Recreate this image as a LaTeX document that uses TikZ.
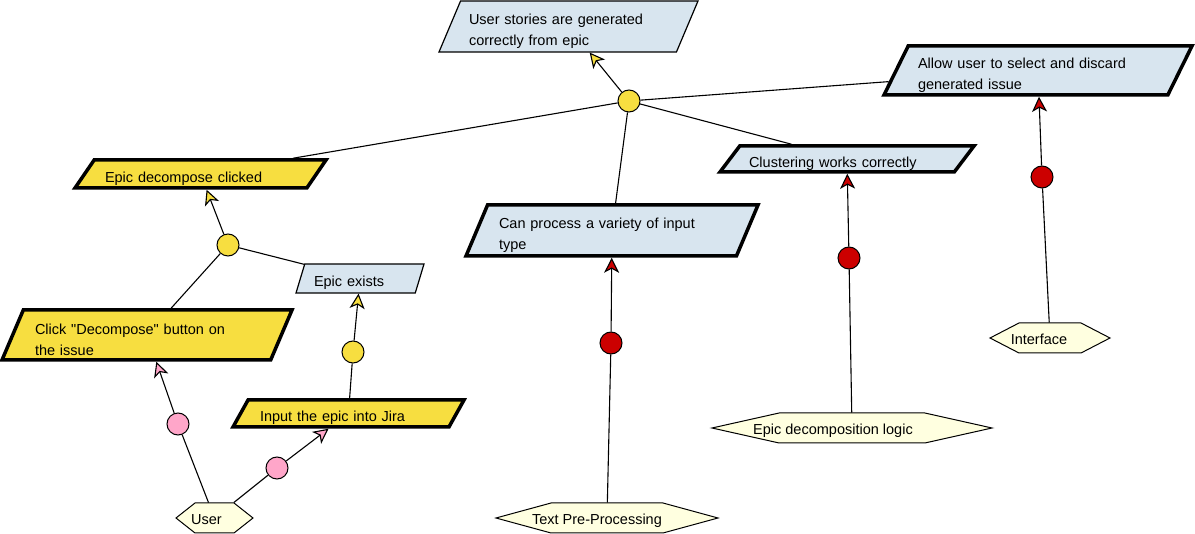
\documentclass[tikz,border=0pt]{standalone}
\usepackage{fontspec}
\setmainfont{Liberation Sans}
\usetikzlibrary{shapes.geometric,shapes.symbols,arrows.meta}
\definecolor{goalblue}{RGB}{216,229,239}
\definecolor{goalyellow}{RGB}{247,222,64}
\definecolor{oppink}{RGB}{255,166,201}
\definecolor{respred}{RGB}{204,0,0}
\definecolor{agentfill}{RGB}{255,255,224}
\begin{document}
\begin{tikzpicture}[x=1pt,y=-1pt,font=\fontsize{14.5}{21}\selectfont]
  \tikzstyle{goal}=[trapezium,trapezium stretches body,draw,fill=goalblue,line width=1.2pt,inner xsep=0pt,inner ysep=0pt,text height=20pt,align=left];
  \tikzstyle{hardgoal}=[goal,line width=3.5pt];
  \tikzstyle{agent}=[signal,signal to=east and west,draw,fill=agentfill,line width=1pt,minimum height=30];
  \tikzstyle{every label}=[text height=17pt,text depth=3pt];
  \tikzstyle{refine}=[circle,draw,line width=1pt,inner sep=0pt,minimum size=22];
  \tikzstyle{link}=[draw,line width=1.1pt];
  \tikzstyle{yellowtip}=[-{Stealth[length=15pt,width=15pt,inset=4pt,fill=goalyellow]}];
  \tikzstyle{pinktip}=[-{Stealth[length=15pt,width=15pt,inset=4pt,fill=oppink]}];
  \tikzstyle{redtip}=[-{Stealth[length=15pt,width=15pt,inset=4pt,fill=respred]}];
  \useasboundingbox (0,0) rectangle (1195,534);

  % goals
  \path (568.5,26.5) node[goal,minimum width=259,minimum height=51,trapezium left angle=63.9,trapezium right angle=116.1,text width=199] (stories) {User stories are generated\\correctly from epic};
  \path (1038,70.5) node[hardgoal,minimum width=308,minimum height=49,trapezium left angle=61.2,trapezium right angle=118.8,text width=240] (discard) {Allow user to select and discard\\generated issue};
  \path (847,159) node[hardgoal,minimum width=254,minimum height=26,trapezium left angle=49.4,trapezium right angle=130.6,text width=196] (cluster) {Clustering works correctly};
  \path (612,230.5) node[hardgoal,minimum width=292,minimum height=51,trapezium left angle=63.9,trapezium right angle=116.1,text width=226] (variety) {Can process a variety of input\\type};
  \path (200.5,174) node[hardgoal,fill=goalyellow,minimum width=251,minimum height=28,trapezium left angle=50.2,trapezium right angle=129.8,text width=191] (clicked) {Epic decompose clicked};
  \path (360,278.5) node[goal,minimum width=128,minimum height=29,trapezium left angle=69.2,trapezium right angle=110.8,text width=92] (exists) {Epic exists};
  \path (147,335) node[hardgoal,fill=goalyellow,minimum width=290,minimum height=50,trapezium left angle=62.6,trapezium right angle=117.4,text width=224] (button) {Click \textquotedbl Decompose\textquotedbl\ button on\\the issue};
  \path (348.5,413.5) node[hardgoal,fill=goalyellow,minimum width=231,minimum height=27,trapezium left angle=56.8,trapezium right angle=123.2,text width=177] (jira) {Input the epic into Jira};

  % agents
  \path (214.5,518) node[agent,minimum width=77,signal pointer angle=76.6,label={[xshift=-8pt]center:User}] (user) {};
  \path (607,518) node[agent,minimum width=222,signal pointer angle=30.5,label={[xshift=-10pt]center:Text Pre-Processing}] (preproc) {};
  \path (852,428) node[agent,minimum width=280,signal pointer angle=25.2,label={[xshift=-19pt]center:Epic decomposition logic}] (logic) {};
  \path (1050,338) node[agent,minimum width=120,signal pointer angle=54.7,label={[xshift=-11pt]center:Interface}] (interface) {};

  % refinements and links
  \path (629,101) node[refine,fill=goalyellow] (and1) {};
  \path (228,245) node[refine,fill=goalyellow] (and2) {};
  \path (353,352) node[refine,fill=goalyellow] (and3) {};
  \path (178,424) node[refine,fill=oppink] (op1) {};
  \path (277,468) node[refine,fill=oppink] (op2) {};
  \path (611,343) node[refine,fill=respred] (resp1) {};
  \path (849,258) node[refine,fill=respred] (resp2) {};
  \path (1042,177) node[refine,fill=respred] (resp3) {};

  \path[link] (clicked) -- (and1);
  \path[link] (variety) -- (and1);
  \path[link] (cluster) -- (and1);
  \path[link] (discard) -- (and1);
  \path[link,yellowtip] (and1) -- (stories);
  \path[link] (button) -- (and2);
  \path[link] (exists) -- (and2);
  \path[link,yellowtip] (and2) -- (clicked);
  \path[link] (jira) -- (and3);
  \path[link,yellowtip] (and3) -- (exists);
  \path[link] (user) -- (op1);
  \path[link,pinktip] (op1) -- (button);
  \path[link] (user) -- (op2);
  \path[link,pinktip] (op2) -- (jira);
  \path[link] (preproc) -- (resp1);
  \path[link,redtip] (resp1) -- (variety);
  \path[link] (logic) -- (resp2);
  \path[link,redtip] (resp2) -- (cluster);
  \path[link] (interface) -- (resp3);
  \path[link,redtip] (resp3) -- (discard);
\end{tikzpicture}
\end{document}
